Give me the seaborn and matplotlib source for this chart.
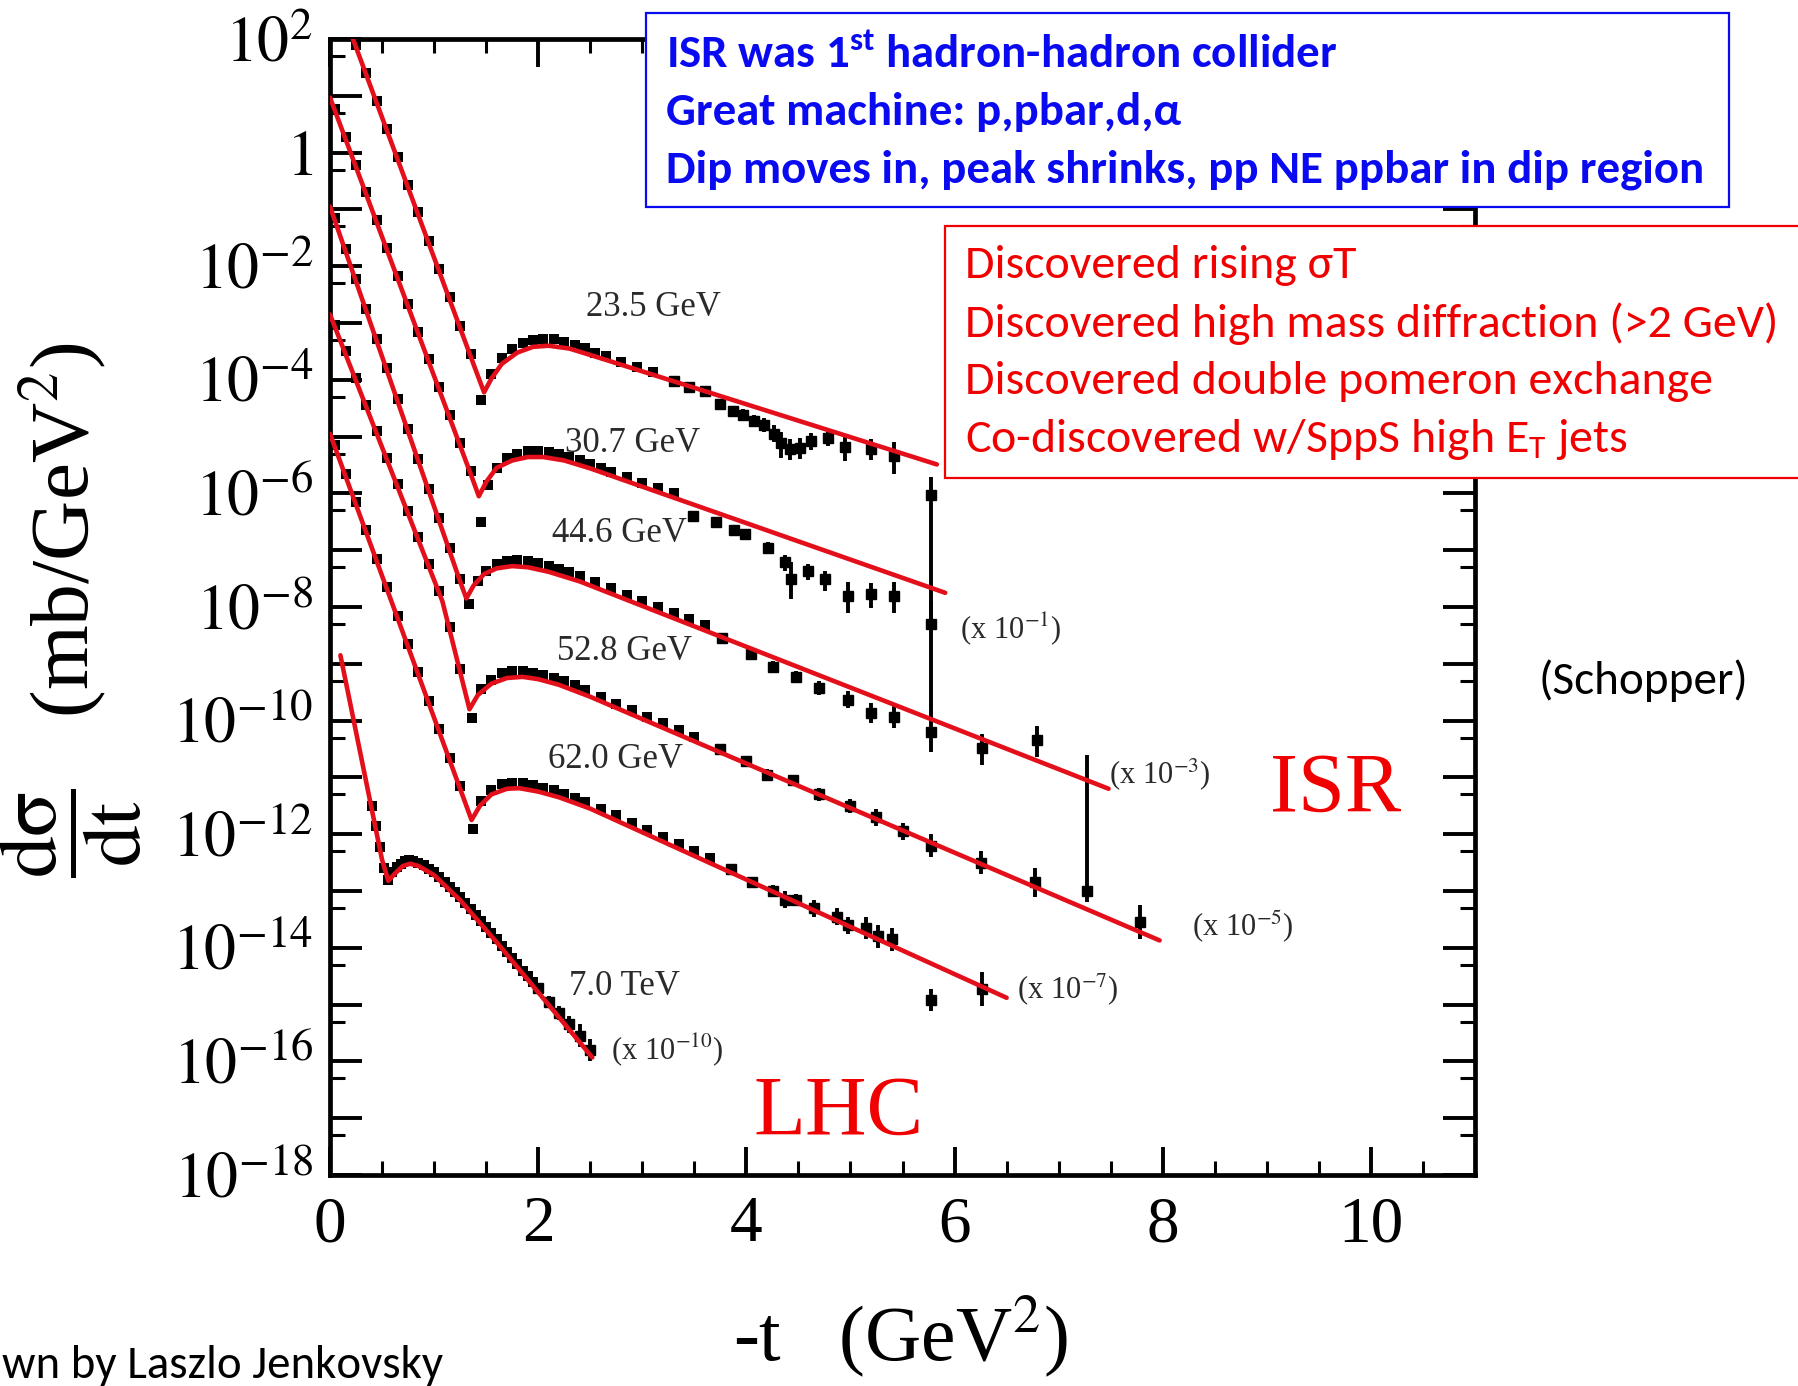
import numpy as np
import matplotlib
matplotlib.use("Agg")
import matplotlib.pyplot as plt
from matplotlib import font_manager
from matplotlib.patches import Rectangle
from matplotlib.ticker import FixedLocator, FixedFormatter, FuncFormatter, NullFormatter
import seaborn as sns

W, H = 1798, 1386

# ---------------------------------------------------------------------------
# Elastic pp differential cross sections, log10(dsigma/dt) in mb/GeV^2,
# already multiplied by the plotting offsets shown next to each curve.
# ---------------------------------------------------------------------------

# 23.5 GeV
fit_t_235 = [0.00, 1.00, 1.40, 1.48, 1.55, 1.65, 1.80, 1.95, 2.10, 2.30, 2.60, 5.83]
fit_L_235 = [3.09, -1.85, -3.83, -4.22, -3.98, -3.72, -3.52, -3.42, -3.40, -3.45, -3.62, -5.49]
t_235 = [0.25, 0.35, 0.45, 0.55, 0.65, 0.75, 0.85, 0.95, 1.05, 1.15, 1.25, 1.35, 1.45,
         1.55, 1.65, 1.75, 1.85, 1.95, 2.05, 2.15, 2.25, 2.35, 2.45, 2.55, 2.65, 2.80, 2.95, 3.10]
L_235 = [1.90, 1.40, 0.90, 0.42, -0.07, -0.57, -1.05, -1.55, -2.05, -2.55, -3.05, -3.55, -4.35,
         -3.90, -3.62, -3.45, -3.35, -3.30, -3.28, -3.29, -3.33, -3.38, -3.44, -3.52, -3.58, -3.68, -3.77, -3.86]
tail_t_235 = [3.30, 3.45, 3.60, 3.75, 3.87, 3.97, 4.07, 4.17, 4.27, 4.33, 4.42, 4.52, 4.62, 4.78, 4.95, 5.20, 5.42, 5.77]
tail_L_235 = [-4.02, -4.12, -4.20, -4.42, -4.55, -4.62, -4.72, -4.80, -4.95, -5.12, -5.22, -5.20, -5.08, -5.02, -5.18, -5.22, -5.35, -6.02]
tail_lo_235 = [0.05, 0.05, 0.06, 0.08, 0.08, 0.10, 0.10, 0.12, 0.15, 0.25, 0.20, 0.20, 0.15, 0.15, 0.25, 0.20, 0.30, 2.20]
tail_hi_235 = [0.05, 0.05, 0.06, 0.08, 0.08, 0.10, 0.10, 0.12, 0.15, 0.20, 0.18, 0.18, 0.15, 0.15, 0.20, 0.18, 0.25, 0.30]

# 30.7 GeV (x 10^-1)
fit_t_307 = [0.00, 1.36, 1.43, 1.50, 1.60, 1.75, 1.90, 2.05, 2.25, 2.50, 5.91]
fit_L_307 = [0.97, -5.70, -6.05, -5.80, -5.55, -5.42, -5.36, -5.36, -5.42, -5.56, -7.75]
t_307 = [0.05, 0.15, 0.25, 0.35, 0.45, 0.55, 0.65, 0.75, 0.85, 0.95, 1.05, 1.15, 1.25, 1.35, 1.45,
         1.52, 1.60, 1.70, 1.80, 1.90, 2.00, 2.10, 2.20, 2.30, 2.40, 2.50, 2.60, 2.70, 2.85, 3.00, 3.15, 3.30]
L_307 = [0.77, 0.28, -0.21, -0.70, -1.19, -1.68, -2.17, -2.66, -3.15, -3.64, -4.13, -4.62, -5.11, -5.60, -6.50,
         -5.85, -5.55, -5.38, -5.30, -5.26, -5.25, -5.27, -5.30, -5.36, -5.42, -5.48, -5.55, -5.62, -5.71, -5.81, -5.91, -6.00]
tail_t_307 = [3.49, 3.71, 3.88, 3.99, 4.21, 4.37, 4.43, 4.59, 4.76, 4.98, 5.20, 5.42, 5.77]
tail_L_307 = [-6.40, -6.50, -6.64, -6.72, -6.96, -7.21, -7.51, -7.37, -7.51, -7.81, -7.77, -7.81, -8.30]
tail_lo_307 = [0.06, 0.06, 0.08, 0.08, 0.10, 0.15, 0.35, 0.15, 0.20, 0.30, 0.25, 0.30, 1.45]
tail_hi_307 = [0.06, 0.06, 0.08, 0.08, 0.10, 0.12, 0.30, 0.12, 0.15, 0.25, 0.20, 0.25, 0.40]

# 44.6 GeV (x 10^-3)
fit_t_446 = [0.00, 1.25, 1.31, 1.38, 1.48, 1.60, 1.75, 1.90, 2.10, 2.40, 7.48]
fit_L_446 = [-0.95, -7.55, -7.85, -7.62, -7.42, -7.32, -7.28, -7.30, -7.38, -7.55, -11.20]
t_446 = [0.05, 0.15, 0.25, 0.35, 0.45, 0.55, 0.65, 0.75, 0.85, 0.95, 1.05, 1.15, 1.25, 1.34,
         1.42, 1.50, 1.60, 1.70, 1.80, 1.90, 2.00, 2.10, 2.20, 2.30, 2.40, 2.55, 2.70, 2.85, 3.00, 3.15, 3.30, 3.45, 3.60]
L_446 = [-1.16, -1.69, -2.22, -2.75, -3.28, -3.80, -4.33, -4.86, -5.39, -5.92, -6.44, -6.97, -7.50, -7.95,
         -7.55, -7.36, -7.24, -7.19, -7.18, -7.19, -7.23, -7.28, -7.33, -7.39, -7.46, -7.56, -7.67, -7.78, -7.89, -8.00, -8.10, -8.21, -8.32]
tail_t_446 = [3.77, 4.04, 4.26, 4.48, 4.70, 4.98, 5.20, 5.42, 5.77, 6.26, 6.79]
tail_L_446 = [-8.55, -8.82, -9.05, -9.23, -9.43, -9.63, -9.87, -9.93, -10.20, -10.48, -10.34]
tail_lo_446 = [0.06, 0.08, 0.10, 0.10, 0.12, 0.15, 0.18, 0.20, 0.35, 0.30, 0.30]
tail_hi_446 = [0.06, 0.08, 0.10, 0.10, 0.12, 0.15, 0.18, 0.20, 0.50, 0.25, 0.25]

# 52.8 GeV (x 10^-5)
fit_t_528 = [0.00, 1.08, 1.34, 1.42, 1.55, 1.70, 1.85, 2.00, 2.20, 2.50, 7.97]
fit_L_528 = [-2.85, -7.90, -9.80, -9.55, -9.35, -9.25, -9.23, -9.27, -9.37, -9.58, -13.87]
t_528 = [0.05, 0.15, 0.25, 0.35, 0.45, 0.55, 0.65, 0.75, 0.85, 0.95, 1.05, 1.15, 1.25, 1.36,
         1.45, 1.55, 1.65, 1.75, 1.85, 1.95, 2.05, 2.15, 2.25, 2.35, 2.45, 2.60, 2.75, 2.90, 3.05, 3.20, 3.35, 3.50]
L_528 = [-3.03, -3.50, -3.97, -4.44, -4.90, -5.37, -5.84, -6.31, -6.77, -7.24, -7.71, -8.36, -9.10, -9.95,
         -9.45, -9.28, -9.17, -9.13, -9.13, -9.16, -9.20, -9.25, -9.31, -9.38, -9.47, -9.58, -9.70, -9.81, -9.93, -10.05, -10.16, -10.28]
tail_t_528 = [3.75, 4.00, 4.20, 4.45, 4.70, 5.00, 5.25, 5.50, 5.77, 6.25, 6.77, 7.27, 7.78]
tail_L_528 = [-10.50, -10.72, -10.95, -11.05, -11.30, -11.50, -11.70, -11.95, -12.20, -12.50, -12.85, -13.00, -13.55]
tail_lo_528 = [0.06, 0.08, 0.10, 0.10, 0.12, 0.12, 0.15, 0.15, 0.20, 0.20, 0.25, 0.20, 0.30]
tail_hi_528 = [0.06, 0.08, 0.10, 0.10, 0.12, 0.12, 0.15, 0.15, 0.20, 0.20, 0.25, 2.40, 0.30]

# 62.0 GeV (x 10^-7)
fit_t_620 = [0.00, 1.30, 1.36, 1.44, 1.55, 1.70, 1.82, 2.00, 2.20, 2.50, 6.50]
fit_L_620 = [-4.95, -11.45, -11.75, -11.50, -11.30, -11.20, -11.19, -11.25, -11.35, -11.55, -14.88]
t_620 = [0.05, 0.15, 0.25, 0.35, 0.45, 0.55, 0.65, 0.75, 0.85, 0.95, 1.05, 1.15, 1.25, 1.37,
         1.45, 1.55, 1.65, 1.75, 1.85, 1.95, 2.05, 2.15, 2.25, 2.35, 2.45, 2.60, 2.75, 2.90, 3.05, 3.20, 3.35, 3.50, 3.65]
L_620 = [-5.15, -5.65, -6.15, -6.65, -7.15, -7.65, -8.15, -8.65, -9.15, -9.65, -10.15, -10.65, -11.15, -11.90,
         -11.42, -11.22, -11.12, -11.09, -11.10, -11.13, -11.18, -11.23, -11.29, -11.36, -11.43, -11.55, -11.67, -11.80, -11.92, -12.05, -12.17, -12.30, -12.42]
tail_t_620 = [3.85, 4.05, 4.26, 4.37, 4.48, 4.65, 4.87, 4.98, 5.15, 5.26, 5.40, 5.77, 6.26]
tail_L_620 = [-12.62, -12.85, -13.00, -13.15, -13.15, -13.30, -13.45, -13.60, -13.65, -13.80, -13.85, -14.92, -14.72]
tail_lo_620 = [0.06, 0.08, 0.10, 0.15, 0.10, 0.15, 0.15, 0.15, 0.20, 0.20, 0.20, 0.20, 0.30]
tail_hi_620 = [0.06, 0.08, 0.10, 0.15, 0.10, 0.15, 0.15, 0.15, 0.20, 0.20, 0.20, 0.20, 0.30]

# 7.0 TeV (x 10^-10)
fit_t_7000 = [0.10, 0.50, 0.56, 0.62, 0.70, 0.77, 0.85, 1.00, 1.25, 1.60, 2.52]
fit_L_7000 = [-8.85, -12.45, -12.82, -12.70, -12.56, -12.52, -12.56, -12.72, -13.16, -13.90, -15.93]
t_7000 = [0.40, 0.44, 0.48, 0.52, 0.56, 0.60, 0.64, 0.68, 0.72, 0.76, 0.80, 0.85, 0.90, 0.95, 1.00,
          1.05, 1.10, 1.15, 1.20, 1.25, 1.30, 1.35, 1.40, 1.45, 1.50, 1.55, 1.60, 1.65, 1.70, 1.75,
          1.80, 1.85, 1.90, 1.95]
L_7000 = [-11.50, -11.86, -12.22, -12.60, -12.80, -12.66, -12.58, -12.52, -12.47, -12.45, -12.47, -12.50, -12.55, -12.61, -12.67,
          -12.76, -12.85, -12.93, -13.02, -13.11, -13.22, -13.32, -13.43, -13.53, -13.64, -13.74, -13.85, -13.96, -14.07, -14.18,
          -14.29, -14.40, -14.50, -14.60]
tail_t_7000 = [2.00, 2.10, 2.20, 2.30, 2.40, 2.50]
tail_L_7000 = [-14.70, -14.95, -15.15, -15.35, -15.55, -15.80]
tail_lo_7000 = [0.08, 0.10, 0.12, 0.15, 0.20, 0.20]
tail_hi_7000 = [0.08, 0.10, 0.12, 0.15, 0.20, 0.20]

energy_labels = ["23.5 GeV", "30.7 GeV", "44.6 GeV", "52.8 GeV", "62.0 GeV", "7.0 TeV"]
scale_labels = [r"(x 10$^{-1}$)", r"(x 10$^{-3}$)", r"(x 10$^{-5}$)", r"(x 10$^{-7}$)", r"(x 10$^{-10}$)"]

x_tick_values = [0, 2, 4, 6, 8, 10]
x_tick_labels = ["0", "2", "4", "6", "8", "10"]

# ---------------------------------------------------------------------------
RED = "#e3101c"
BLUE = "#0a0af0"
TXT_RED = "#f00000"

sns.set_theme(style="ticks")
plt.rcParams["font.family"] = ["Liberation Serif", "DejaVu Serif"]
plt.rcParams["mathtext.fontset"] = "stix"

installed = {f.name for f in font_manager.fontManager.ttflist}
SANS = next(n for n in ["Carlito", "Lato", "Open Sans", "Noto Sans", "DejaVu Sans"] if n in installed)
plt.rcParams["mathtext.rm"] = SANS
plt.rcParams["mathtext.bf"] = SANS + ":bold"
plt.rcParams["mathtext.it"] = SANS + ":italic"

fig = plt.figure(figsize=(W / 100, H / 100), dpi=100)
fig.patch.set_facecolor("white")
ax = fig.add_axes([330 / W, 1 - 1175 / H, (1475 - 330) / W, (1175 - 39) / H])
ax.set_yscale("log")


def px(X, Y):
    """Figure-fraction coordinates from pixel position (origin top-left)."""
    return X / W, 1 - Y / H


series = [
    (t_235, L_235, tail_t_235, tail_L_235, tail_lo_235, tail_hi_235, fit_t_235, fit_L_235),
    (t_307, L_307, tail_t_307, tail_L_307, tail_lo_307, tail_hi_307, fit_t_307, fit_L_307),
    (t_446, L_446, tail_t_446, tail_L_446, tail_lo_446, tail_hi_446, fit_t_446, fit_L_446),
    (t_528, L_528, tail_t_528, tail_L_528, tail_lo_528, tail_hi_528, fit_t_528, fit_L_528),
    (t_620, L_620, tail_t_620, tail_L_620, tail_lo_620, tail_hi_620, fit_t_620, fit_L_620),
    (t_7000, L_7000, tail_t_7000, tail_L_7000, tail_lo_7000, tail_hi_7000, fit_t_7000, fit_L_7000),
]

for t, L, tt, tL, lo, hi, ft, fL in series:
    y = 10.0 ** np.asarray(L)
    sns.scatterplot(x=t, y=y, marker="s", s=58, color="black", linewidth=0, ax=ax, zorder=3)
    ty = 10.0 ** np.asarray(tL)
    ylo = ty - 10.0 ** (np.asarray(tL) - np.asarray(lo))
    yhi = 10.0 ** (np.asarray(tL) + np.asarray(hi)) - ty
    ax.errorbar(tt, ty, yerr=[ylo, yhi], fmt="s", ms=7, mfc="black", mec="black",
                ecolor="black", elinewidth=2.8, capsize=0, zorder=3)
    sns.lineplot(x=ft, y=10.0 ** np.asarray(fL), color=RED, linewidth=3.3,
                 sort=False, estimator=None, ax=ax, zorder=4)

ax.set_xlim(0, 11)
ax.set_ylim(1e-18, 1e2)

# axes frame and ticks
for s in ax.spines.values():
    s.set_linewidth(3.4)
    s.set_color("black")

ax.xaxis.set_major_locator(FixedLocator(x_tick_values))
ax.xaxis.set_major_formatter(FixedFormatter(x_tick_labels))
ax.xaxis.set_minor_locator(FixedLocator([v for v in np.arange(0.5, 11.0, 0.5) if v % 2 != 0]))

ax.yaxis.set_major_locator(FixedLocator(10.0 ** np.arange(-18, 3)))
ax.yaxis.set_minor_locator(FixedLocator(0.5 * 10.0 ** np.arange(-17, 3)))
ax.yaxis.set_minor_formatter(NullFormatter())


def decade_label(v, pos):
    e = int(round(np.log10(v)))
    if e % 2:
        return ""
    if e == 0:
        return "$1$"
    return r"$10^{%d}$" % e


ax.yaxis.set_major_formatter(FuncFormatter(decade_label))

ax.tick_params(which="both", direction="in", top=True, right=True, colors="black")
ax.tick_params(axis="x", which="major", length=20, width=2.8, labelsize=47, pad=15)
ax.tick_params(axis="x", which="minor", length=10, width=2.2)
ax.tick_params(axis="y", which="major", length=23, width=2.8, labelsize=46, pad=12)
ax.tick_params(axis="y", which="minor", length=11, width=2.2)
ax.set_xlabel("")
ax.set_ylabel("")

# energy and offset labels next to the curves
label_pos = [(3.11, -2.72), (2.91, -5.13), (2.78, -6.70), (2.83, -8.78), (2.74, -10.68), (2.83, -14.68)]
for (x, l), txt in zip(label_pos, energy_labels):
    ax.text(x, 10.0 ** l, txt, ha="center", va="center", fontsize=25, color="#2a2a2a")
scale_pos = [(6.54, -8.38), (7.97, -10.94), (8.77, -13.63), (7.09, -14.72), (3.24, -15.79)]
for (x, l), txt in zip(scale_pos, scale_labels):
    ax.text(x, 10.0 ** l, txt, ha="center", va="center", fontsize=22, color="#2a2a2a")

# axis titles
fig.text(*px(71, 610), r"$\dfrac{\mathrm{d\sigma}}{\mathrm{dt}}$   (mb/GeV$^{2}$)",
         rotation=90, ha="center", va="center", fontsize=60, color="black")
fig.text(*px(900, 1360), r"-t   (GeV$^{2}$)", ha="center", va="baseline", fontsize=56, color="black")

# annotation boxes
fig.add_artist(Rectangle(px(646, 207), (1729 - 646) / W, (207 - 13) / H, transform=fig.transFigure,
                         facecolor="white", edgecolor=BLUE, linewidth=1.6, zorder=10))
fig.add_artist(Rectangle(px(945, 478), (1830 - 945) / W, (478 - 226) / H, transform=fig.transFigure,
                         facecolor="white", edgecolor=TXT_RED, linewidth=1.6, zorder=10))

blue_lines = [r"ISR was 1$^{\mathbf{st}}$ hadron-hadron collider",
              "Great machine: p,pbar,d,\u03b1",
              "Dip moves in, peak shrinks, pp NE ppbar in dip region"]
blue_base = [68, 125, 182]
blue_txt = [fig.text(*px(666, b), s, color=BLUE, fontfamily=SANS, fontweight="bold", fontsize=30,
                     ha="left", va="baseline", math_fontfamily="custom", zorder=11)
            for s, b in zip(blue_lines, blue_base)]

red_lines = ["Discovered rising \u03c3T",
             "Discovered high mass diffraction (>2 GeV)",
             "Discovered double pomeron exchange",
             r"Co-discovered w/SppS high E$_{\mathrm{T}}$ jets"]
red_base = [278, 337, 394, 452]
red_txt = [fig.text(*px(965, b), s, color=TXT_RED, fontfamily=SANS, fontsize=30,
                    ha="left", va="baseline", math_fontfamily="custom", zorder=11)
           for s, b in zip(red_lines, red_base)]

schopper = fig.text(*px(1539, 694), "(Schopper)", color="black", fontfamily=SANS, fontsize=30,
                    ha="left", va="baseline")
isr = fig.text(*px(1270, 812), "ISR", color="#f00000", fontsize=60, ha="left", va="baseline")
lhc = fig.text(*px(753, 1135), "LHC", color="#f00000", fontsize=60, ha="left", va="baseline")
credit = fig.text(*px(2, 1378), "wn by Laszlo Jenkovsky", color="black", fontfamily=SANS,
                  fontsize=30, ha="left", va="baseline")

# size text blocks to their measured widths
fig.canvas.draw()
renderer = fig.canvas.get_renderer()


def fit_group(texts, ref, target):
    w = ref.get_window_extent(renderer).width
    k = target / w
    for t in texts:
        t.set_fontsize(t.get_fontsize() * k)


fit_group(blue_txt, blue_txt[2], 1034)
fit_group(red_txt, red_txt[1], 812)
fit_group([schopper], schopper, 210)
fit_group([isr], isr, 131)
fit_group([lhc], lhc, 170)
fit_group([credit], credit, 441)

fig.savefig("out.png", dpi=100, facecolor="white")
